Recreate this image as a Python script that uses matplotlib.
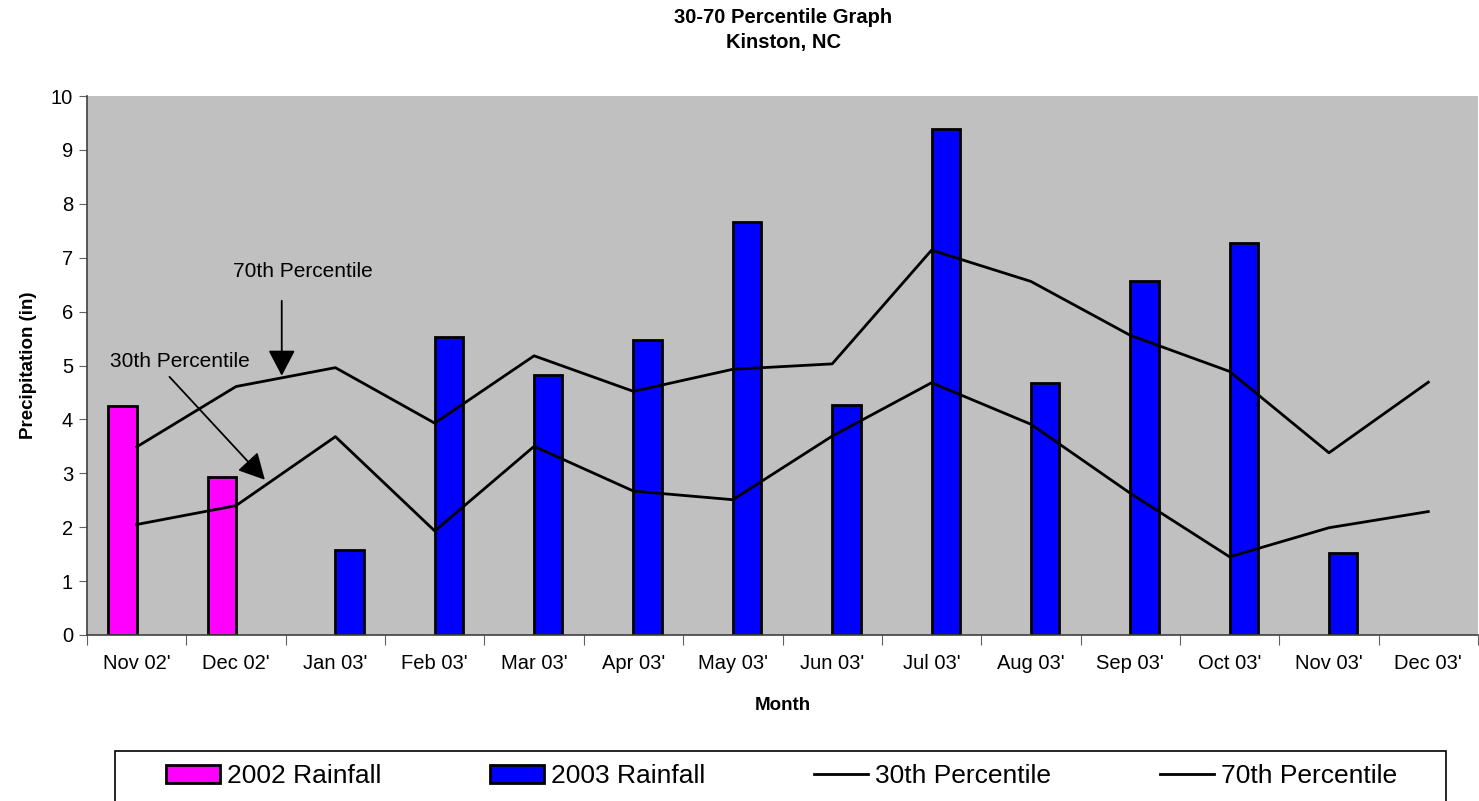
import matplotlib
matplotlib.use("Agg")
from matplotlib import pyplot as plt
from matplotlib.patches import Rectangle
from matplotlib.lines import Line2D
import numpy as np

plt.rcParams['font.family'] = ['Liberation Sans', 'DejaVu Sans']

# data
months = ["Nov 02'", "Dec 02'", "Jan 03'", "Feb 03'", "Mar 03'", "Apr 03'", "May 03'",
          "Jun 03'", "Jul 03'", "Aug 03'", "Sep 03'", "Oct 03'", "Nov 03'", "Dec 03'"]
months_2002 = ["Nov 02'", "Dec 02'"]
rain_2002 = [4.25, 2.94]
months_2003 = ["Jan 03'", "Feb 03'", "Mar 03'", "Apr 03'", "May 03'", "Jun 03'",
               "Jul 03'", "Aug 03'", "Sep 03'", "Oct 03'", "Nov 03'"]
rain_2003 = [1.58, 5.52, 4.82, 5.47, 7.66, 4.27, 9.38, 4.68, 6.57, 7.28, 1.52]
p30 = [2.05, 2.40, 3.68, 1.93, 3.50, 2.67, 2.51, 3.69, 4.68, 3.91, 2.63, 1.45, 1.99, 2.29]
p70 = [3.49, 4.61, 4.96, 3.93, 5.18, 4.52, 4.93, 5.03, 7.14, 6.56, 5.56, 4.89, 3.38, 4.69]

W, H = 1479, 801
fig = plt.figure(figsize=(W/100, H/100), dpi=100)
ax = fig.add_axes([87/W, 1 - 635/H, 1391/W, 539/H])

x = np.arange(len(months))
pos = {m: i for i, m in enumerate(months)}
bw = 1/3.5  # excel gap width 150%

x02 = np.array([pos[m] for m in months_2002])
x03 = np.array([pos[m] for m in months_2003])
ax.bar(x02 - bw/2, rain_2002, bw, color='#FF00FF', edgecolor='black', linewidth=2, zorder=2)
ax.bar(x03 + bw/2, rain_2003, bw, color='#0000FF', edgecolor='black', linewidth=2, zorder=2)
ax.plot(x, p30, color='black', linewidth=2, zorder=3)
ax.plot(x, p70, color='black', linewidth=2, zorder=3)

ax.set_facecolor('#C0C0C0')
ax.set_xlim(-0.5, len(months) - 0.5)
ax.set_ylim(0, 10)
ax.set_yticks(range(0, 11))
ax.tick_params(axis='y', labelsize=14.5, length=6, color='#606060', pad=4)
ax.set_xticks(np.arange(-0.5, len(months), 1))
ax.set_xticklabels([])
ax.set_xticks(x, minor=True)
ax.set_xticklabels(months, minor=True)
ax.tick_params(axis='x', which='major', length=7, color='#606060')
ax.tick_params(axis='x', which='minor', length=0, labelsize=14.5, pad=14)
for s in ['top', 'right']:
    ax.spines[s].set_visible(False)
for s in ['left', 'bottom']:
    ax.spines[s].set_color('#404040')
    ax.spines[s].set_linewidth(1.2)

ax.set_xlabel('Month', fontsize=13.5, fontweight='bold', labelpad=17)
ax.set_ylabel('Precipitation (in)', fontsize=13.5, fontweight='bold', labelpad=10)

fig.text(783/W, 1 - 30/H, '30-70 Percentile Graph\nKinston, NC', ha='center', va='center',
         fontsize=14.5, fontweight='bold', linespacing=1.45)

# callouts
arr = dict(arrowstyle='-|>,head_length=0.8,head_width=0.42', mutation_scale=20,
           color='black', lw=1.3, shrinkA=0, shrinkB=0)
ax.text(1.67, 6.74, '70th Percentile', ha='center', va='center', fontsize=15)
ax.annotate('', xy=(1.46, 4.81), xytext=(1.46, 6.20), arrowprops=arr)
ax.text(-0.27, 5.07, '30th Percentile', ha='left', va='center', fontsize=15)
ax.annotate('', xy=(1.29, 2.88), xytext=(0.33, 4.79), arrowprops=arr)

# legend
fig.patches.append(Rectangle((115/W, -0.05), 1331/W, 1 - 751/H + 0.05, transform=fig.transFigure,
                             facecolor='white', edgecolor='black', linewidth=1.2, zorder=1))
handles = [Rectangle((0, 0), 1, 1, facecolor='#FF00FF', edgecolor='black', linewidth=2),
           Rectangle((0, 0), 1, 1, facecolor='#0000FF', edgecolor='black', linewidth=2),
           Line2D([], [], color='black', linewidth=2),
           Line2D([], [], color='black', linewidth=2)]
labels = ['2002 Rainfall', '2003 Rainfall', '30th Percentile', '70th Percentile']
fig.legend(handles, labels, loc='center', ncol=4, mode='expand', frameon=False,
           bbox_to_anchor=(166/W, 1 - 776/H, 1231/W, 0), fontsize=19,
           handlelength=2.05, handleheight=0.65, handletextpad=0.25, borderpad=0,
           borderaxespad=0)

fig.savefig('out.png', dpi=100)
